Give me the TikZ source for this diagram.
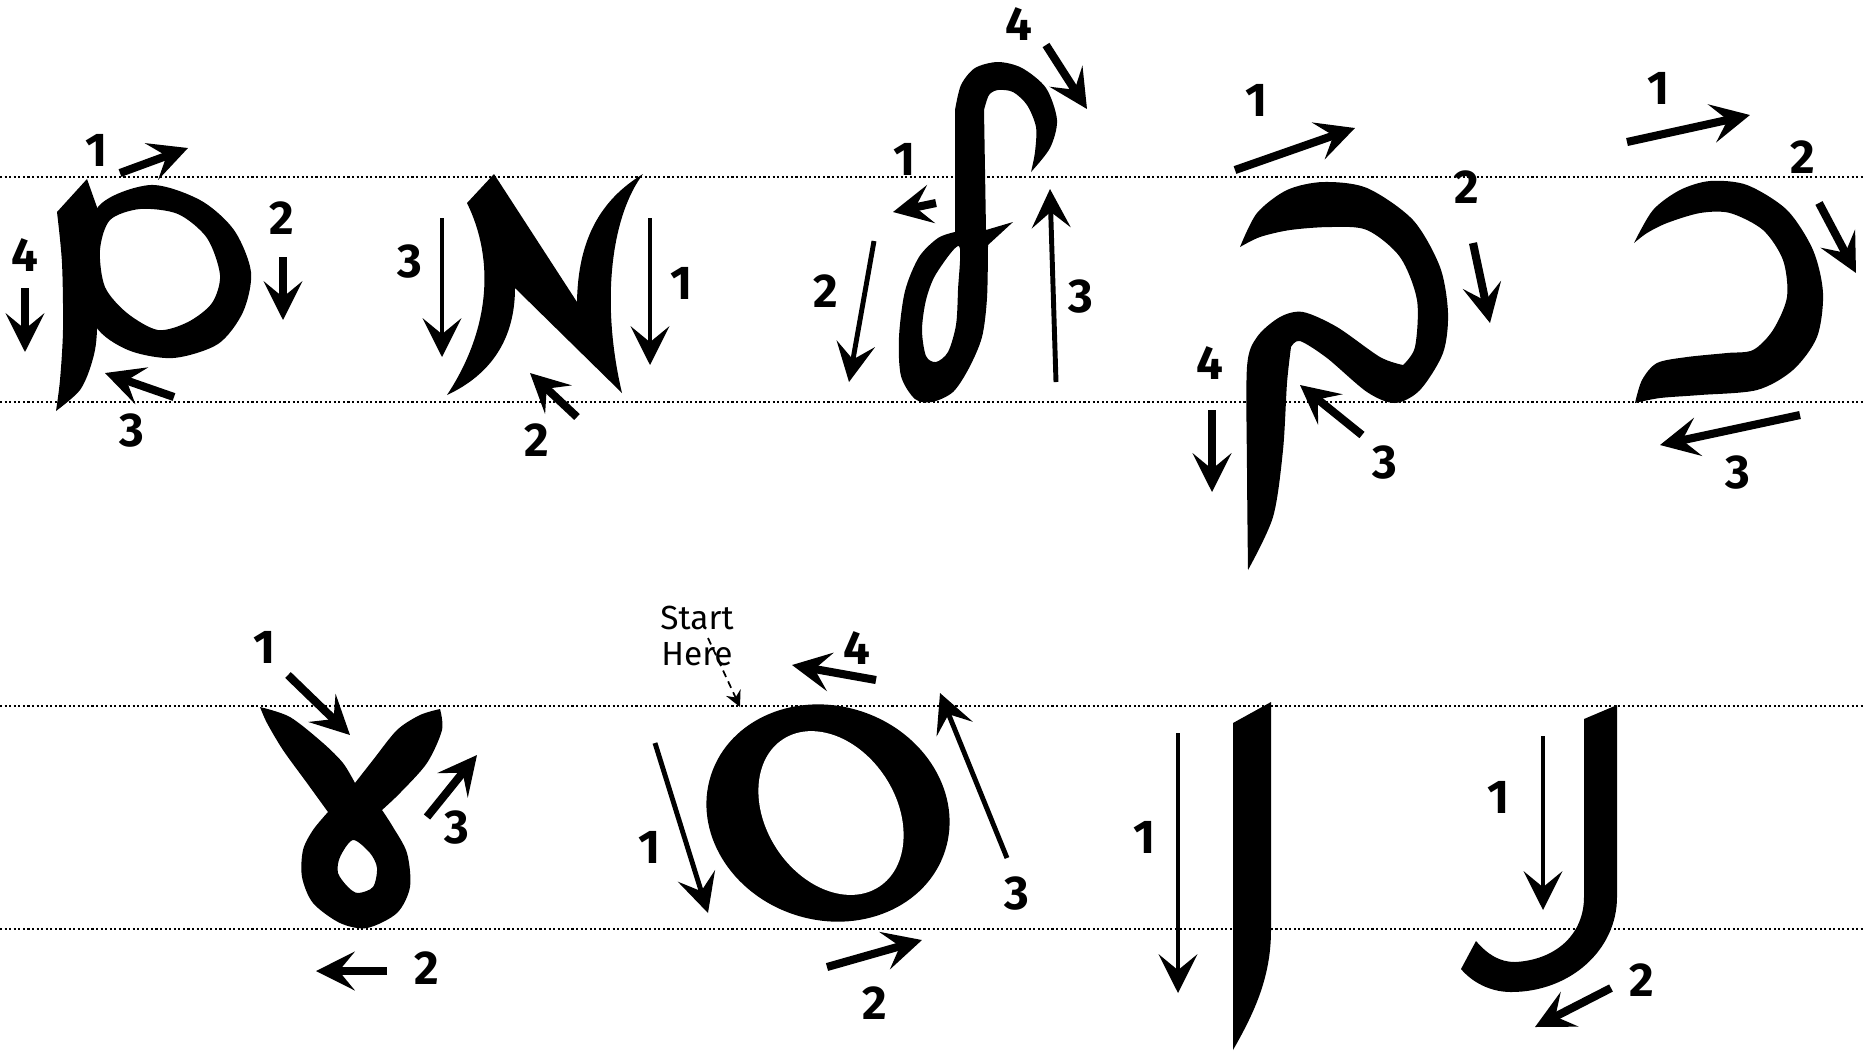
\documentclass[tikz,border=0pt]{standalone}
\usepackage{fontspec}
\setmainfont{Fira Sans}
\usepackage{tikz}
\usetikzlibrary{arrows.meta}

\tikzset{
  guide/.style={line width=0.6pt, dash pattern=on 0.6pt off 0.7pt, black},
  glyph/.style={fill=black},
  boldstroke/.style={-{Stealth[length=11pt,width=11pt,inset=4.5pt]}, line width=2.3pt},
  thinstroke/.style={-{Stealth[length=11pt,width=11pt,inset=4.5pt]}, line width=1.4pt},
  pointer/.style={-{Stealth[length=4.5pt,width=4.5pt,inset=1.5pt]}, line width=0.5pt,
    dash pattern=on 2pt off 1.4pt},
  num/.style={font=\fontsize{13.5}{15}\selectfont\bfseries, inner sep=0pt},
}

\begin{document}
\begin{tikzpicture}[x=0.01cm, y=-0.01cm]
  \useasboundingbox (0,0) rectangle (1863,1053);
  \fill[white] (0,0) rectangle (1863,1053);
  \foreach \y in {177,402,706,929}
    \draw[guide] (0,\y) -- (1863,\y);

  % first row: mem
  \fill[glyph] (87,179) -- (98,210)
    -- plot[smooth] coordinates {(98,210) (97,240) (97,330) (92,362) (80,390) (56,411)}
    -- plot[smooth] coordinates {(56,411) (60,380) (63,330) (62,263) (57,212)} -- cycle;
  \fill[glyph, even odd rule]
    plot[smooth cycle] coordinates {(98,207) (150,185) (200,200) (234,230) (251,272)
      (243,312) (218,344) (173,358) (128,350) (95,325) (85,270)}
    plot[smooth cycle] coordinates {(110,220) (140,209) (178,214) (207,238) (220,275)
      (212,303) (188,322) (158,330) (127,313) (105,287) (100,250)};
  \draw[boldstroke] (120,173) -- (188,148);
  \draw[boldstroke] (283,257) -- (283,320);
  \draw[boldstroke] (174,397) -- (105,373);
  \draw[boldstroke] (25,288) -- (25,352);
  \node[num] (mem1) at (97,150) {1};
  \node[num] (mem2) at (282,218) {2};
  \node[num] (mem3) at (132,431) {3};
  \node[num] (mem4) at (25,255) {4};

  % alef
  \fill[glyph] (494,174) -- (577,302) .. controls (578,240) and (600,200) .. (643,174)
    .. controls (612,215) and (600,300) .. (622,393) -- (515,288)
    .. controls (515,340) and (490,375) .. (447,395)
    .. controls (490,330) and (495,260) .. (467,203) -- cycle;
  \draw[thinstroke] (650,218) -- (650,365);
  \draw[boldstroke] (577,417) -- (530,373);
  \draw[thinstroke] (442,218) -- (442,357);
  \node[num] (alef1) at (682,283) {1};
  \node[num] (alef2) at (537,440) {2};
  \node[num] (alef3) at (410,262) {3};

  % lamed
  \fill[glyph, even odd rule] (1031,172)
    -- plot[smooth] coordinates {(1031,172) (1050,148) (1057,120) (1046,88) (1022,68)
      (998,62) (975,68) (961,85) (955,110)}
    -- (955,232)
    -- plot[smooth] coordinates {(955,232) (938,238) (919,257) (905,291) (899,337)
      (901,376) (915,399) (932,402) (953,392) (969,368) (982,337) (987,298) (988,245)}
    -- (1013,222) -- (986,230) -- (984,110)
    -- plot[smooth] coordinates {(984,110) (989,95) (998,90) (1013,92) (1027,105)
      (1036,127) (1035,152) (1031,172)} -- cycle
    plot[smooth cycle] coordinates {(959,246) (958,290) (956,325) (948,352) (936,362)
      (926,356) (922,330) (926,300) (936,274)};
  \draw[boldstroke] (936,203) -- (893,212);
  \draw[thinstroke] (874,241) -- (849,382);
  \draw[thinstroke] (1056,382) -- (1050,189);
  \draw[boldstroke] (1046,45) -- (1087,109);
  \node[num] (lamed1) at (905,159) {1};
  \node[num] (lamed2) at (826,291) {2};
  \node[num] (lamed3) at (1081,297) {3};
  \node[num] (lamed4) at (1019,24) {4};

  % qof
  \fill[glyph]
    plot[smooth] coordinates {(1240,247) (1257,213) (1287,190) (1323,182) (1367,188)
      (1413,220) (1440,267) (1448,313) (1443,353) (1420,390) (1395,403) (1367,392)
      (1327,358) (1300,341) (1291,347)}
    -- plot[smooth] coordinates {(1291,347) (1287,383) (1283,450) (1273,517) (1248,570)}
    -- plot[smooth] coordinates {(1248,570) (1247,470) (1247,367) (1257,337) (1280,317)
      (1303,312) (1337,327) (1380,357) (1403,365)}
    -- plot[smooth] coordinates {(1403,365) (1415,347) (1417,300) (1400,257) (1367,230)
      (1330,227) (1290,230) (1260,237) (1240,247)} -- cycle;
  \draw[boldstroke] (1235,170) -- (1355,128);
  \draw[boldstroke] (1473,243) -- (1490,323);
  \draw[boldstroke] (1362,435) -- (1300,385);
  \draw[boldstroke] (1212,410) -- (1212,492);
  \node[num] (qof1) at (1257,100) {1};
  \node[num] (qof2) at (1467,187) {2};
  \node[num] (qof3) at (1385,463) {3};
  \node[num] (qof4) at (1210,363) {4};

  % bet
  \fill[glyph]
    plot[smooth] coordinates {(1634,243) (1653,210) (1680,190) (1710,181) (1747,185)
      (1787,210) (1813,250) (1823,293) (1817,337) (1793,370) (1757,390) (1700,395)
      (1660,398) (1635,403)}
    -- plot[smooth] coordinates {(1635,403) (1642,380) (1657,363) (1687,357) (1727,353)
      (1753,350) (1773,330) (1787,297) (1783,260) (1763,230) (1730,213) (1700,213)
      (1667,223) (1647,233) (1634,243)} -- cycle;
  \draw[boldstroke] (1627,142) -- (1750,115);
  \draw[boldstroke] (1819,203) -- (1856,273);
  \draw[boldstroke] (1800,415) -- (1660,445);
  \node[num] (bet1) at (1658,88) {1};
  \node[num] (bet2) at (1803,157) {2};
  \node[num] (bet3) at (1738,473) {3};

  % second row: ayin
  \fill[glyph, even odd rule]
    plot[smooth] coordinates {(260,707) (290,717) (323,743) (343,763) (355,783)}
    -- plot[smooth] coordinates {(355,783) (373,760) (397,730) (420,715) (440,709)}
    -- plot[smooth] coordinates {(440,709) (442,730) (427,763) (400,793) (382,810)}
    -- plot[smooth] coordinates {(382,810) (393,827) (407,853) (410,887) (397,913)
      (367,928) (340,923) (313,903) (302,877) (303,850) (313,830) (328,812)}
    -- plot[smooth] coordinates {(328,812) (307,783) (283,750) (267,723) (260,707)} -- cycle
    plot[smooth cycle] coordinates {(353,840) (340,857) (338,873) (348,887) (358,893)
      (373,887) (377,868) (370,853)};
  \draw[boldstroke] (288,675) -- (350,735);
  \draw[boldstroke] (387,971) -- (316,971);
  \draw[boldstroke] (427,817) -- (477,755);
  \node[num] (ayin1) at (265,647) {1};
  \node[num] (ayin2) at (427,968) {2};
  \node[num] (ayin3) at (457,827) {3};

  % samekh
  \fill[glyph, rotate around={-18:(828,813)}] (828,813) ellipse [x radius=123, y radius=107];
  \fill[white, rotate around={-57:(831,813)}] (831,813) ellipse [x radius=88, y radius=65];
  \draw[thinstroke] (655,743) -- (708,913);
  \draw[boldstroke] (827,967) -- (922,940);
  \draw[thinstroke] (1007,858) -- (940,693);
  \draw[boldstroke] (876,680) -- (792,665);
  \node[num] (samekh1) at (650,847) {1};
  \node[num] (samekh2) at (875,1003) {2};
  \node[num] (samekh3) at (1017,893) {3};
  \node[num] (samekh4) at (857,648) {4};
  \node[font=\fontsize{9.5}{10.5}\selectfont, align=center, inner sep=0pt]
    (start) at (697,636) {Start\\Here};
  \coordinate (startfoot) at (708,638);
  \coordinate (starttip) at (740,707);
  \draw[pointer] (startfoot) -- (starttip);

  % vav
  \fill[glyph] (1233,723) -- (1271,702) -- (1271,930)
    .. controls (1271,975) and (1256,1010) .. (1233,1050) -- cycle;
  \draw[thinstroke] (1178,733) -- (1178,993);
  \node[num] (vav1) at (1145,837) {1};

  % final nun
  \fill[glyph] (1584,719) -- (1617,705) -- (1617,897)
    .. controls (1617,950) and (1570,992) .. (1511,992)
    .. controls (1490,992) and (1472,982) .. (1461,969) -- (1476,941)
    .. controls (1488,955) and (1500,962) .. (1515,962)
    .. controls (1555,960) and (1584,935) .. (1584,897) -- cycle;
  \draw[thinstroke] (1543,736) -- (1543,910);
  \draw[boldstroke] (1611,988) -- (1535,1027);
  \node[num] (nun1) at (1499,797) {1};
  \node[num] (nun2) at (1642,980) {2};
\end{tikzpicture}
\end{document}
